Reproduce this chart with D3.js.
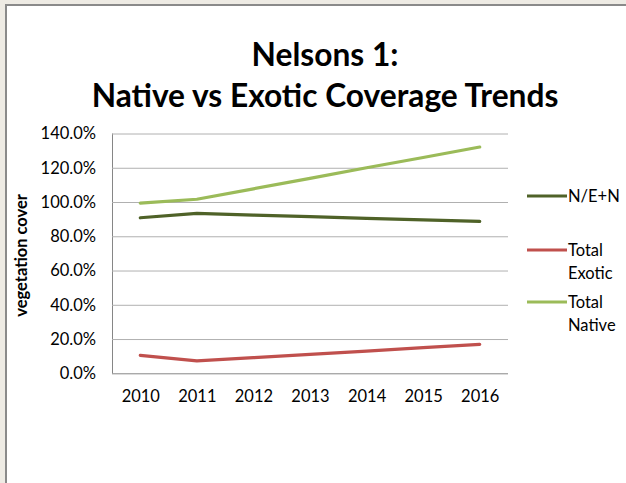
<!DOCTYPE html>
<html>
<head>
<meta charset="utf-8">
<script src="https://cdn.jsdelivr.net/npm/d3@7"></script>
<style>
  html, body { margin: 0; padding: 0; background: #eeebe4; }
  svg { display: block; }
  text { font-family: Lato, "Open Sans", sans-serif; fill: #000; }
</style>
</head>
<body>
<svg id="chart" width="626" height="483"></svg>
<script>
const years = ["2010", "2011", "2012", "2013", "2014", "2015", "2016"];
const neN = [0.908, 0.934, 0.924, 0.915, 0.905, 0.896, 0.887];
const totalExotic = [0.105, 0.072, 0.091, 0.110, 0.130, 0.150, 0.169];
const totalNative = [0.993, 1.016, 1.077, 1.138, 1.200, 1.260, 1.321];
const yTicks = [0, 0.2, 0.4, 0.6, 0.8, 1.0, 1.2, 1.4];
const seriesNames = ["N/E+N", "Total Exotic", "Total Native"];
const seriesColors = ["#4f6228", "#c0504d", "#9bbb59"];
const titleLines = ["Nelsons 1:", "Native vs Exotic Coverage Trends"];
const yAxisTitle = "vegetation cover";

const svg = d3.select("#chart");
const W = 626, H = 483;

// frame
svg.append("rect").attr("x", 0).attr("y", 0).attr("width", W).attr("height", H).attr("fill", "#eeebe4");
svg.append("rect").attr("x", 7).attr("y", 6).attr("width", W - 7).attr("height", H - 6).attr("fill", "#fff");
svg.append("line").attr("x1", 6).attr("x2", 6).attr("y1", 4).attr("y2", H).attr("stroke", "#8a8a8a").attr("stroke-width", 2);
svg.append("line").attr("x1", 5).attr("x2", W).attr("y1", 5).attr("y2", 5).attr("stroke", "#8a8a8a").attr("stroke-width", 2);

const plot = { left: 112, right: 508, top: 133.5, bottom: 373.3 };
const x = d3.scalePoint().domain(years).range([plot.left, plot.right]).padding(0.5);
const y = d3.scaleLinear().domain([0, 1.4]).range([plot.bottom, plot.top]);

// title
svg.append("g").selectAll("text").data(titleLines).join("text")
  .attr("x", 325).attr("y", (d, i) => 66 + i * 41)
  .attr("text-anchor", "middle")
  .attr("font-size", 31.7).attr("font-weight", "bold")
  .text(d => d);

// gridlines
const yAxis = d3.axisLeft(y).tickValues(yTicks).tickSize(-(plot.right - plot.left))
  .tickPadding(16).tickFormat(d3.format(".1%"));
const gy = svg.append("g").attr("transform", `translate(${plot.left},0)`).call(yAxis);
gy.select(".domain").attr("stroke", "#868686").attr("d", `M0.5,${plot.top}V${plot.bottom}`);
gy.selectAll(".tick line").attr("stroke", d => d === 0 ? "#868686" : "#b0b0b0").attr("stroke-width", 1);
gy.selectAll(".tick text").attr("font-size", 16.5).attr("font-family", "Lato, sans-serif").attr("fill", "#000");

const xAxis = d3.axisBottom(x).tickSize(0).tickPadding(17);
const gx = svg.append("g").attr("transform", `translate(0,${plot.bottom})`).call(xAxis);
gx.select(".domain").remove();
gx.selectAll(".tick text").attr("font-size", 16.5).attr("font-family", "Lato, sans-serif").attr("fill", "#000");

// y axis title
svg.append("text")
  .attr("transform", `translate(27,${(plot.top + plot.bottom) / 2 + 2}) rotate(-90)`)
  .attr("text-anchor", "middle").attr("font-size", 16.5).attr("font-weight", "bold")
  .text(yAxisTitle);

// lines
const allSeries = [neN, totalExotic, totalNative];
const line = d3.line().x((d, i) => x(years[i])).y(d => y(d));
svg.append("g").selectAll("path").data(allSeries).join("path")
  .attr("d", d => line(d))
  .attr("fill", "none")
  .attr("stroke", (d, i) => seriesColors[i])
  .attr("stroke-width", 3.2)
  .attr("stroke-linejoin", "round")
  .attr("stroke-linecap", "round");

// legend
const legendY = [196, 250, 302];
const leg = svg.append("g").selectAll("g").data(seriesNames).join("g")
  .attr("transform", (d, i) => `translate(527,${legendY[i]})`);
leg.append("line").attr("x1", 0).attr("x2", 40).attr("y1", 0).attr("y2", 0)
  .attr("stroke", (d, i) => seriesColors[i]).attr("stroke-width", 3.2);
leg.append("text").attr("x", 41).attr("y", 6).attr("font-size", 16.5)
  .attr("fill", "#000")
  .each(function(d) {
    const words = d.split(" ");
    const t = d3.select(this);
    words.forEach((w, k) => t.append("tspan").attr("x", 41).attr("dy", k === 0 ? 0 : 23).text(w));
  });
</script>
</body>
</html>
